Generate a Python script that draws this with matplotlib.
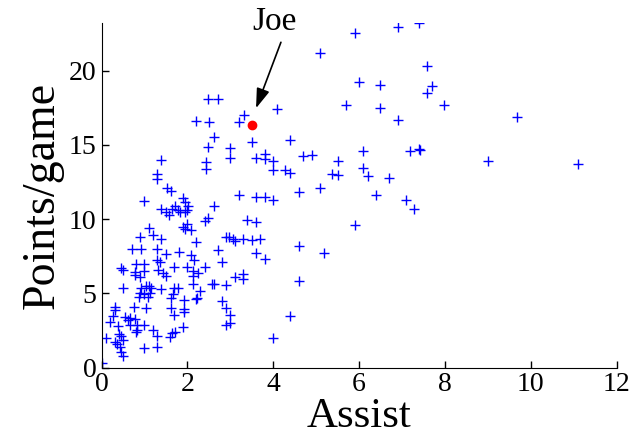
#!/usr/bin/env python3
"""Scatter of points per game vs assists, with one player (Joe) highlighted."""

import matplotlib
matplotlib.use("Agg")
import matplotlib.pyplot as plt

# assists per game, points per game
assist = [
    2.49, 2.72, 2.20, 2.51, 3.31, 3.20, 2.61, 3.50, 2.49, 3.00,
    4.10, 5.91, 6.90, 7.40, 5.09, 7.59, 6.00, 6.49, 7.70, 7.59,
    7.99, 5.70, 6.49, 6.90, 4.39, 6.10, 7.19, 7.40, 7.42, 4.00,
    4.69, 4.90, 5.50, 6.10, 4.00, 4.28, 4.39, 5.38, 5.50, 6.20,
    6.69, 5.09, 4.61, 9.69, 9.00, 11.10, 4.00, 6.40, 7.09, 7.29,
    5.91, 4.61, 5.19, 4.61, 4.39, 4.00, 3.00, 3.60, 3.80, 3.81,
    2.43, 2.43, 3.20, 3.60, 3.80, 2.61, 2.49, 2.40, 3.40, 3.60,
    2.90, 2.97, 3.11, 3.30, 3.50, 3.69, 2.71, 3.60, 3.80, 2.80,
    2.42, 3.10, 3.30, 3.30, 2.61, 2.90, 2.80, 2.90, 3.00, 3.00,
    2.90, 1.39, 1.30, 1.30, 1.53, 1.61, 1.00, 1.90, 1.94, 2.02,
    2.00, 1.71, 1.64, 1.39, 1.51, 1.57, 1.78, 1.82, 1.95, 1.90,
    2.00, 1.95, 2.09, 1.10, 0.90, 1.20, 1.39, 2.19, 0.70, 0.91,
    1.30, 1.51, 1.80, 2.09, 2.16, 0.80, 1.00, 1.30, 1.36, 1.70,
    2.00, 0.45, 0.50, 0.77, 1.00, 1.32, 1.43, 1.51, 2.12, 2.13,
    2.25, 0.77, 0.89, 2.12, 0.50, 0.93, 1.04, 1.10, 1.15, 1.39,
    0.89, 1.00, 1.12, 0.87, 1.08, 1.70, 1.78, 1.67, 2.23, 2.19,
    2.29, 1.92, 1.61, 1.92, 1.92, 1.61, 1.70, 0.31, 0.31, 0.27,
    0.20, 0.54, 0.66, 0.62, 0.77, 0.66, 0.83, 0.83, 1.00, 1.20,
    0.80, 0.38, 0.40, 0.46, 0.50, 0.11, 0.35, 0.31, 0.42, 0.45,
    0.50, 1.00, 1.30, 1.30, 1.59, 1.64, 1.72, 1.90, 0.01, 2.57,
    3.07, 0.75, 1.04,
]
points = [
    18.08, 18.08, 16.60, 16.50, 17.00, 16.50, 15.50, 15.20, 14.86, 14.75,
    17.44, 22.50, 22.90, 23.20, 21.20, 20.30, 19.20, 19.00, 18.94, 18.50,
    17.70, 17.70, 17.50, 16.70, 15.30, 14.60, 14.60, 14.70, 14.68, 13.90,
    14.23, 14.30, 13.90, 13.44, 13.30, 13.30, 13.10, 13.04, 12.97, 12.93,
    12.73, 12.06, 11.80, 16.90, 13.90, 13.70, 11.30, 11.60, 11.30, 10.70,
    9.60, 8.20, 7.70, 5.80, 3.50, 1.97, 14.10, 14.10, 14.40, 14.07,
    13.85, 13.40, 11.60, 11.50, 11.50, 10.87, 10.10, 9.90, 9.93, 9.80,
    8.80, 8.80, 8.50, 8.67, 8.58, 8.63, 7.90, 7.70, 7.28, 7.12,
    6.79, 6.09, 6.27, 5.94, 5.60, 5.55, 4.50, 4.03, 3.54, 2.98,
    2.87, 14.00, 13.00, 12.70, 12.10, 11.90, 11.20, 11.40, 11.16, 10.87,
    10.60, 10.90, 10.70, 10.65, 10.50, 10.30, 10.60, 10.50, 10.50, 9.48,
    9.66, 9.32, 9.25, 9.43, 8.80, 8.90, 8.63, 8.43, 8.00, 7.95,
    7.95, 7.62, 7.80, 7.57, 7.24, 7.00, 7.00, 7.24, 7.08, 6.79,
    6.79, 6.72, 6.56, 6.45, 6.52, 6.56, 6.34, 6.18, 6.50, 6.18,
    6.34, 6.23, 6.07, 5.60, 5.33, 5.33, 5.50, 5.50, 5.37, 5.28,
    5.04, 4.93, 5.04, 4.77, 4.73, 5.33, 5.37, 4.95, 4.70, 4.61,
    5.15, 4.55, 4.66, 3.94, 3.76, 4.03, 3.54, 4.10, 3.87, 3.49,
    3.04, 3.42, 3.36, 3.20, 3.27, 2.87, 2.87, 2.53, 2.87, 2.53,
    2.37, 2.82, 2.24, 2.15, 1.86, 2.00, 1.57, 1.70, 1.41, 1.03,
    0.80, 1.30, 1.41, 2.15, 2.08, 2.30, 2.41, 2.75, 0.29, 5.60,
    8.63, 4.05, 3.99,
]

joe_assist = 3.50
joe_points = 16.31
joe_label = "Joe"

plt.rcParams["font.family"] = ["Liberation Serif", "DejaVu Serif"]

fig = plt.figure(figsize=(6.33, 4.46), dpi=100)
ax = fig.add_axes([0.1604, 0.1758, 0.8136, 0.7727])

ax.plot(assist, points, "+", color="blue", markersize=6.5, markeredgewidth=1.0)
ax.plot(joe_assist, joe_points, "o", color="red", markersize=6)

# label and arrow pointing at Joe
ax.text(4.04, 23.25, joe_label, ha="center", va="center", fontsize=24,
        clip_on=False)
ax.annotate("", xy=(3.60, 17.46), xytext=(4.18, 21.9),
            annotation_clip=False,
            arrowprops=dict(arrowstyle="-|>,head_length=0.6,head_width=0.2",
                            color="black", lw=1.2, mutation_scale=20,
                            shrinkA=0, shrinkB=0))

ax.set_xlim(0, 12)
ax.set_ylim(0, 23.2)
ax.set_xticks([0, 2, 4, 6, 8, 10, 12])
ax.set_yticks([0, 5, 10, 15, 20])
ax.spines["top"].set_visible(False)
ax.spines["right"].set_visible(False)
ax.tick_params(direction="in", length=5, labelsize=20, width=1)
ax.set_xlabel("Assist", fontsize=31, labelpad=0)
ax.set_ylabel("Points/game", fontsize=33, labelpad=4)

fig.savefig("out.png", dpi=100)
